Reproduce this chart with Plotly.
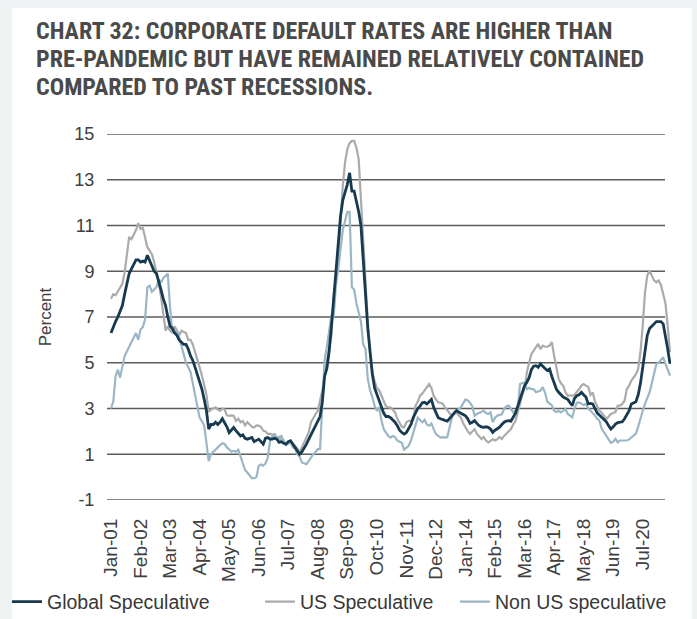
import pandas as pd
import plotly.graph_objects as go

# Monthly speculative-grade default rates (%), Jan-2001 onward, one row per year
global_spec = [
    6.3, 6.6, 6.8, 7.0, 7.3, 7.5, 8.0, 8.5, 8.9, 9.1, 9.3, 9.5,
    9.5, 9.4, 9.45, 9.4, 9.7, 9.45, 9.2, 9.0, 8.9, 8.6, 8.2, 7.8,
    7.5, 7.0, 6.6, 6.5, 6.3, 6.2, 6.0, 5.9, 5.8, 5.8, 5.6, 5.3,
    5.1, 4.8, 4.5, 4.1, 3.85, 3.4, 2.9, 2.1, 2.3, 2.3, 2.4, 2.3,
    2.4, 2.55, 2.4, 2.2, 1.95, 2.05, 2.17, 2.03, 1.9, 1.8, 1.85, 1.7,
    1.66, 1.7, 1.73, 1.55, 1.6, 1.66, 1.55, 1.44, 1.7, 1.73, 1.66, 1.66,
    1.7, 1.66, 1.52, 1.55, 1.48, 1.44, 1.55, 1.59, 1.45, 1.3, 1.15, 1.0,
    1.1, 1.25, 1.44, 1.65, 1.85, 2.05, 2.2, 2.45, 2.65, 3.3, 4.4, 4.75,
    5.5, 6.6, 7.8, 9.2, 10.4, 11.4, 12.1, 12.45, 12.8, 13.3, 12.5, 12.5,
    12.1, 11.6, 11.0, 9.5, 7.8, 6.5, 5.5, 4.5, 3.9, 3.6, 3.4, 3.1,
    2.8, 2.65, 2.65, 2.6, 2.5, 2.4, 2.25, 2.05, 1.95, 1.88, 1.95, 2.1,
    2.3, 2.6, 2.8, 3.0, 3.1, 3.25, 3.27, 3.2, 3.3, 3.4, 3.05, 2.8,
    2.6, 2.55, 2.5, 2.48, 2.45, 2.55, 2.68, 2.8, 2.9, 2.85, 2.8, 2.72,
    2.68, 2.55, 2.35, 2.4, 2.47, 2.35, 2.25, 2.2, 2.18, 2.2, 2.18, 2.1,
    1.96, 2.05, 2.1, 2.18, 2.3, 2.4, 2.45, 2.47, 2.45, 2.6, 2.8, 3.1,
    3.4, 3.75, 4.0, 4.15, 4.35, 4.7, 4.85, 4.87, 4.8, 4.95, 4.87, 4.75,
    4.66, 4.73, 4.4, 4.1, 3.85, 3.71, 3.6, 3.5, 3.45, 3.4, 3.25, 3.13,
    3.45, 3.56, 3.6, 3.71, 3.6, 3.5, 3.2, 3.22, 3.2, 3.0, 2.8, 2.7,
    2.6, 2.52, 2.42, 2.25, 2.1, 2.2, 2.32, 2.38, 2.4, 2.42, 2.55, 2.75,
    2.9, 3.2, 3.25, 3.3, 3.6, 4.1, 4.8, 5.5, 6.2, 6.5, 6.6, 6.7,
    6.8, 6.8, 6.8, 6.7, 6.2, 5.6, 4.95,
]

us_spec = [
    7.8, 8.0, 7.95, 8.1, 8.3, 8.45, 8.95, 9.7, 10.5, 10.4, 10.6, 10.8,
    11.1, 10.85, 10.9, 10.4, 10.05, 9.9, 9.75, 9.4, 9.0, 8.5, 7.9, 7.05,
    6.4, 6.6, 6.4, 6.33, 6.6, 6.4, 6.2, 6.4, 6.35, 6.3, 6.0, 6.0,
    5.8, 5.5, 5.2, 4.8, 4.45, 4.0, 3.6, 2.85, 2.95, 3.0, 3.05, 2.95,
    2.9, 3.0, 2.95, 2.7, 2.68, 2.7, 2.68, 2.46, 2.55, 2.4, 2.45, 2.26,
    2.4, 2.3, 2.2, 2.17, 2.26, 2.25, 2.2, 2.03, 2.0, 1.88, 1.9, 1.85,
    1.88, 1.7, 1.73, 1.6, 1.55, 1.44, 1.5, 1.52, 1.45, 1.37, 1.25, 1.08,
    1.3, 1.52, 1.8, 1.95, 2.4, 2.6, 2.75, 2.9, 3.34, 3.8, 4.43, 5.0,
    5.6, 6.18, 7.93, 8.8, 9.39, 11.14, 12.74, 13.76, 14.34, 14.6, 14.7, 14.7,
    14.4, 13.9, 12.0, 10.4, 8.2, 6.8, 5.4, 4.6, 4.2, 3.9, 3.8, 3.56,
    3.3, 3.1, 3.05, 3.05, 2.95, 2.83, 2.55, 2.4, 2.2, 2.17, 2.4, 2.46,
    2.46, 2.5, 3.12, 3.3, 3.56, 3.65, 3.78, 3.9, 4.07, 3.9, 3.56, 3.4,
    3.27, 3.25, 3.2, 3.05, 2.9, 2.8, 2.68, 2.75, 2.83, 2.7, 2.6, 2.35,
    2.17, 2.0, 1.89, 2.0, 2.1, 1.9, 1.8, 1.67, 1.75, 1.6, 1.52, 1.6,
    1.65, 1.6, 1.65, 1.75, 1.67, 1.8, 1.89, 2.0, 2.1, 2.3, 2.45, 2.83,
    3.27, 3.6, 3.85, 4.58, 5.0, 5.38, 5.53, 5.7, 5.82, 5.6, 5.75, 5.7,
    5.7, 5.75, 5.9, 5.31, 4.73, 4.29, 4.1, 4.0, 3.71, 3.56, 3.56, 3.56,
    3.6, 3.71, 3.85, 4.0, 4.07, 4.0, 3.95, 3.6, 3.7, 3.3, 3.13, 2.9,
    2.8, 2.69, 2.54, 2.65, 2.76, 2.8, 2.85, 3.13, 3.13, 3.2, 3.34, 3.85,
    4.0, 4.22, 4.36, 4.5, 4.73, 5.46, 6.62, 8.08, 8.81, 9.03, 8.81, 8.6,
    8.52, 8.6, 8.4, 8.0, 7.6, 6.6, 5.45,
]

non_us_spec = [
    3.0, 3.3, 4.4, 4.7, 4.35, 4.85, 5.3, 5.5, 5.7, 5.95, 6.15, 6.3,
    6.0, 6.45, 6.55, 6.9, 8.3, 8.37, 8.1, 8.2, 8.3, 8.66, 8.5, 8.7,
    8.8, 8.9, 7.4, 6.33, 6.3, 6.4, 6.1, 5.7, 5.3, 5.0, 4.8, 4.6,
    4.1, 3.6, 3.1, 2.6, 2.45, 2.25, 1.5, 0.7, 1.0, 1.11, 1.23, 1.3,
    1.4, 1.48, 1.45, 1.3, 1.22, 1.11, 1.15, 1.11, 1.2, 0.9, 0.6, 0.31,
    0.2, 0.05, -0.05, -0.05, 0.0, 0.5, 0.55, 0.5, 0.6, 0.85, 1.6, 1.8,
    1.77, 1.75, 1.75, 1.8, 1.6, 1.4, 1.45, 1.55, 1.3, 1.25, 1.0, 0.9,
    0.64, 0.6, 0.57, 0.7, 0.86, 1.0, 1.1, 1.22, 1.22, 3.3, 5.1, 5.7,
    6.4, 7.06, 7.0, 8.4, 9.1, 9.9, 10.8, 11.2, 11.6, 11.6, 8.3, 8.2,
    7.6, 7.2, 6.8, 5.8, 5.6, 4.3, 3.8, 3.5, 3.12, 2.9, 3.05, 2.5,
    2.1, 1.95, 1.8, 1.73, 1.8, 1.75, 1.6, 1.55, 1.5, 1.2, 1.3, 1.37,
    1.6, 1.9, 2.25, 2.6, 2.5, 2.4, 2.5, 2.3, 2.25, 2.35, 2.1, 1.88,
    1.8, 1.73, 1.75, 1.73, 1.75, 2.2, 2.6, 2.85, 2.9, 2.97, 3.05, 3.2,
    3.4, 3.35, 3.25, 3.1, 2.69, 2.76, 2.8, 2.83, 2.9, 2.8, 2.76, 2.83,
    2.4, 2.6, 2.69, 2.72, 2.75, 2.98, 3.1, 3.13, 2.98, 2.83, 2.9, 2.98,
    4.07, 4.1, 4.14, 3.85, 3.9, 3.85, 3.85, 3.71, 3.75, 3.78, 3.93, 3.7,
    3.3, 3.2, 3.13, 2.9, 2.85, 2.9, 2.83, 2.9, 2.98, 2.76, 2.7, 2.61,
    3.0, 3.25, 3.27, 3.2, 3.15, 3.2, 3.0, 2.9, 2.8, 2.69, 2.55, 2.45,
    2.1, 1.95, 1.8, 1.62, 1.5, 1.55, 1.67, 1.52, 1.6, 1.6, 1.6, 1.6,
    1.65, 1.74, 1.8, 1.9, 2.2, 2.61, 2.9, 3.2, 3.42, 3.7, 4.1, 4.6,
    4.95, 5.0, 5.1, 5.24, 4.95, 4.73, 4.44,
]

# Month categories (Jan-01, Feb-01, ...) and the labelled subset, every 13th month
months = list(pd.date_range("2001-01-01", periods=len(global_spec), freq="MS").strftime("%b-%y"))
tick_labels = months[::13]
y_ticks = [-1, 1, 3, 5, 7, 9, 11, 13, 15]
y_tick_text = [str(v) for v in y_ticks]

title_lines = [
    "CHART 32: CORPORATE DEFAULT RATES ARE HIGHER THAN",
    "PRE-PANDEMIC BUT HAVE REMAINED RELATIVELY CONTAINED",
    "COMPARED TO PAST RECESSIONS.",
]

W, H = 697, 619
L, R, T, B = 107, 26, 134, 119
plot_w, plot_h = W - L - R, H - T - B


def px_x(px):
    return (px - L) / plot_w


def px_y(py):
    return (H - B - py) / plot_h


n = len(months)
step = (670 - 111) / (n - 1)
x_range = [-(111 - L) / step, (n - 1) + (L + plot_w - 670) / step]

BASE_FONT = "Liberation Sans, Arial, sans-serif"
TITLE_FONT = "Roboto Condensed, Noto Sans Condensed, Roboto, sans-serif"

fig = go.Figure()

fig.add_trace(go.Scatter(
    x=months, y=us_spec, mode="lines", name="US Speculative",
    line=dict(color="#ababab", width=2.2), legend="legend2",
))
fig.add_trace(go.Scatter(
    x=months, y=non_us_spec, mode="lines", name="Non US speculative",
    line=dict(color="#9bb6c5", width=2.2), legend="legend3",
))
fig.add_trace(go.Scatter(
    x=months, y=global_spec, mode="lines", name="Global Speculative",
    line=dict(color="#173a50", width=2.8), legend="legend",
))

shapes = [
    # white card behind the whole chart
    dict(type="rect", xref="paper", yref="paper",
         x0=px_x(12), x1=px_x(692), y0=px_y(H + 5), y1=px_y(8),
         fillcolor="white", line=dict(width=0), layer="below"),
]
for v in y_ticks:
    shapes.append(dict(type="line", xref="paper", yref="y",
                       x0=0, x1=px_x(665), y0=v, y1=v,
                       line=dict(color="#5c5c5c", width=1.5), layer="below"))

annotations = []
for k, line in enumerate(title_lines):
    annotations.append(dict(
        text=f"<b>{line}</b>", xref="paper", yref="paper",
        x=px_x(34), y=px_y(31 + 28 * k), xanchor="left", yanchor="middle",
        showarrow=False, font=dict(family=TITLE_FONT, size=24, color="#4a4a4a"),
    ))

legend_common = dict(orientation="h", yanchor="middle", xanchor="left",
                     bgcolor="rgba(0,0,0,0)",
                     font=dict(family=BASE_FONT, size=19.5, color="#383838"))

fig.update_layout(
    width=W, height=H,
    margin=dict(l=L, r=R, t=T, b=B, pad=0, autoexpand=False),
    paper_bgcolor="#eff3f4",
    plot_bgcolor="rgba(0,0,0,0)",
    shapes=shapes,
    annotations=annotations,
    showlegend=True,
    legend=dict(x=px_x(7), y=px_y(602), **legend_common),
    legend2=dict(x=px_x(260), y=px_y(602), **legend_common),
    legend3=dict(x=px_x(455), y=px_y(602), **legend_common),
    xaxis=dict(
        type="category", range=x_range, showgrid=False, zeroline=False,
        showline=False, tickmode="array", tickvals=tick_labels, ticktext=tick_labels,
        tickangle=-90, ticks="outside", ticklen=10, tickcolor="rgba(0,0,0,0)",
        tickfont=dict(family=BASE_FONT, size=19, color="#404040"),
    ),
    yaxis=dict(
        range=[-1, 15], showgrid=False, zeroline=False, showline=False,
        tickmode="array", tickvals=y_ticks, ticktext=y_tick_text,
        ticks="outside", ticklen=8, tickcolor="rgba(0,0,0,0)",
        tickfont=dict(family=BASE_FONT, size=18, color="#404040"),
        title=dict(text="Percent", standoff=18,
                   font=dict(family=BASE_FONT, size=17, color="#404040")),
    ),
)

fig.write_html("out.html")
